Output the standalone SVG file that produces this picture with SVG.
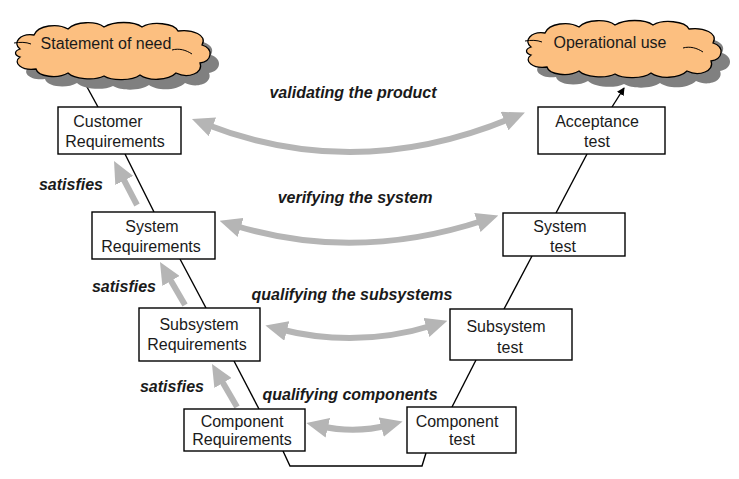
<svg xmlns="http://www.w3.org/2000/svg" width="739" height="479" viewBox="0 0 739 479">
<style>
.box{fill:#fff;stroke:#000;stroke-width:1.4}
.t{font-family:"Liberation Sans",Arial,sans-serif;font-size:16px;fill:#1a1a1a;text-anchor:middle}
.lbl{font-family:"Liberation Sans",Arial,sans-serif;font-size:16px;font-weight:bold;font-style:italic;fill:#1a1a1a;text-anchor:middle}
.v{fill:none;stroke:#000;stroke-width:1.4}
.g{fill:none;stroke:#b5b5b5;stroke-width:6;marker-end:url(#gh)}
.g2{fill:none;stroke:#b5b5b5;stroke-width:6;marker-start:url(#gh);marker-end:url(#gh)}
.cloud{fill:#fcbf80;stroke:#000;stroke-width:1.3}
.shadow{fill:#808080;stroke:none}
.curl{fill:none;stroke:#000;stroke-width:1}
</style>
<defs>
<marker id="gh" markerUnits="userSpaceOnUse" markerWidth="22" markerHeight="20" refX="8" refY="10" orient="auto-start-reverse">
<path d="M0,0 L22,10 L0,20 Z" fill="#b5b5b5"/>
</marker>
<marker id="bh" markerUnits="userSpaceOnUse" markerWidth="8" markerHeight="8" refX="7" refY="4" orient="auto">
<path d="M0,0 L8,4 L0,8 Z" fill="#000"/>
</marker>
<path id="cl" d="M8,28 C0,22 8,12 22,14 C26,4 46,2 56,8 C64,0 84,0 92,6 C102,0 122,0 130,6 C140,0 162,2 166,10 C180,8 196,14 190,24 C202,28 200,40 188,42 C192,52 176,58 164,52 C156,60 136,60 128,54 C120,60 100,60 92,55 C82,60 62,58 56,52 C46,58 26,56 24,48 C10,50 0,42 8,36 C2,34 2,30 8,28 Z"/>
</defs>

<g id="connectors">
<path class="v" d="M81,76 L98,107"/>
<path class="v" d="M125,154 L154,212"/>
<path class="v" d="M180,259 L206,308"/>
<path class="v" d="M234,361 L259,409"/>
<path class="v" d="M283,451 L290,466 L422,466 L426,453"/>
<path class="v" d="M452,407 L476,360"/>
<path class="v" d="M504,309 L532,256"/>
<path class="v" d="M556,213 L587,154"/>
<path class="v" d="M612,107 L624,88" marker-end="url(#bh)"/>
<path class="g2" d="M205,124 Q356,183 512,118"/>
<path class="g2" d="M233,225 Q355,263 485,220"/>
<path class="g2" d="M279,329 Q357,349 434,325"/>
<path class="g2" d="M320,426 Q355,434 389,425"/>
<path class="g" d="M137,205 L120.5,173.4"/>
<path class="g" d="M185,305 L167,274"/>
<path class="g" d="M237,407 L219,376"/>
</g>

<g id="statement-of-need">
<use href="#cl" class="shadow" transform="translate(21,31)"/>
<use href="#cl" class="cloud" transform="translate(12,21)"/>
<path class="curl" d="M14,43 C20,42 26,42 31,44"/>
<path class="curl" d="M172,50 C179,48 186,50 192,54"/>
<text class="t" x="106" y="49">Statement of need</text>
</g>

<g id="operational-use">
<use href="#cl" class="shadow" transform="translate(532,29)"/>
<use href="#cl" class="cloud" transform="translate(523,19)"/>
<path class="curl" d="M525,41 C531,40 537,40 542,42"/>
<path class="curl" d="M683,48 C690,46 697,48 703,52"/>
<text class="t" x="610" y="48">Operational use</text>
</g>

<g id="customer-requirements">
<rect class="box" x="58" y="107" width="123" height="47"/>
<text class="t" x="108" y="127">Customer</text>
<text class="t" x="115" y="147">Requirements</text>
</g>

<g id="system-requirements">
<rect class="box" x="92" y="212" width="123" height="47"/>
<text class="t" x="152" y="232">System</text>
<text class="t" x="151" y="252">Requirements</text>
</g>

<g id="subsystem-requirements">
<rect class="box" x="139" y="308" width="121" height="53"/>
<text class="t" x="199" y="330">Subsystem</text>
<text class="t" x="197" y="350">Requirements</text>
</g>

<g id="component-requirements">
<rect class="box" x="184" y="409" width="121" height="42"/>
<text class="t" x="242" y="427">Component</text>
<text class="t" x="242" y="445">Requirements</text>
</g>

<g id="component-test">
<rect class="box" x="407" y="407" width="109" height="46"/>
<text class="t" x="457" y="427">Component</text>
<text class="t" x="462" y="445">test</text>
</g>

<g id="subsystem-test">
<rect class="box" x="450" y="309" width="122" height="51"/>
<text class="t" x="506" y="332">Subsystem</text>
<text class="t" x="510" y="353">test</text>
</g>

<g id="system-test">
<rect class="box" x="503" y="213" width="122" height="43"/>
<text class="t" x="560" y="232">System</text>
<text class="t" x="563" y="252">test</text>
</g>

<g id="acceptance-test">
<rect class="box" x="538" y="107" width="127" height="47"/>
<text class="t" x="597" y="127">Acceptance</text>
<text class="t" x="597" y="147">test</text>
</g>

<g id="labels">
<text class="lbl" x="353" y="98">validating the product</text>
<text class="lbl" x="355" y="203">verifying the system</text>
<text class="lbl" x="352" y="300">qualifying the subsystems</text>
<text class="lbl" x="350" y="400">qualifying components</text>
<text class="lbl" x="71" y="190">satisfies</text>
<text class="lbl" x="124" y="292">satisfies</text>
<text class="lbl" x="172" y="392">satisfies</text>
</g>
</svg>
